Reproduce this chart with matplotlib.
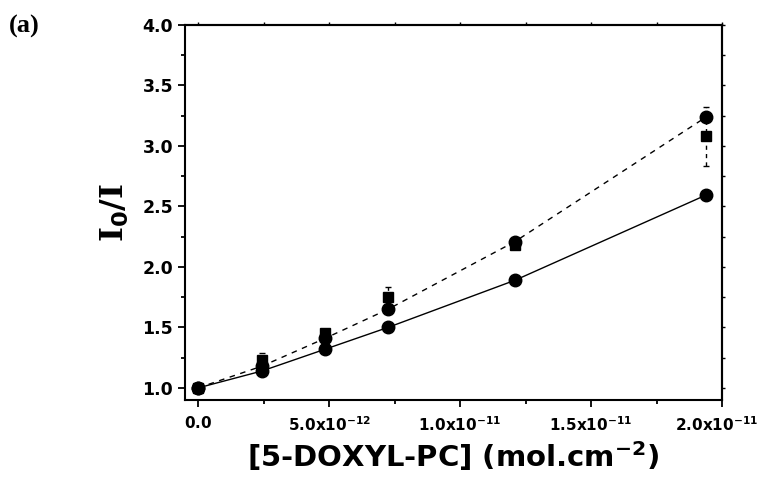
import matplotlib
matplotlib.use("Agg")
import matplotlib.pyplot as plt
import matplotlib.transforms as mtransforms
from matplotlib.ticker import FixedLocator, MultipleLocator, FuncFormatter

# quencher surface concentration (mol cm^-2)
conc = [0.0, 2.44e-12, 4.85e-12, 7.25e-12, 12.1e-12, 19.4e-12]

# I0/I for the three data sets
lower_circles = [1.0, 1.14, 1.32, 1.50, 1.89, 2.595]
upper_circles = [1.0, 1.18, 1.41, 1.65, 2.21, 3.24]
squares = [1.0, 1.23, 1.45, 1.75, 2.18, 3.08]
squares_err = [0.01, 0.06, 0.02, 0.08, 0.03, 0.245]

x_ticks = [0.0, 5e-12, 1.0e-11, 1.5e-11, 2.0e-11]
y_ticks = [1.0, 1.5, 2.0, 2.5, 3.0, 3.5, 4.0]


def sci_label(value, pos):
    if abs(value) < 1e-20:
        return r"$\mathbf{0.0}$"
    exp = int(f"{value:e}".split("e")[1])
    mant = value / 10 ** exp
    return r"$\mathbf{%.1fx10^{%d}}$" % (mant, exp)


fig = plt.figure(figsize=(7.65, 4.79), dpi=100)
ax = fig.add_axes([0.2418, 0.1649, 0.702, 0.783])

ax.plot(conc, lower_circles, color="black", lw=1.0, marker="o", ms=9, zorder=3)
ax.plot(conc, upper_circles, color="black", lw=1.0, ls=(0, (4, 4)), marker="o", ms=9, zorder=3)
ax.errorbar(conc, squares, yerr=squares_err, fmt="s", color="black", ms=7.5,
            ecolor="black", elinewidth=1.0, capsize=2, capthick=1.0, zorder=2)
for line in ax.containers[-1].lines[2]:
    line.set_linestyle((0, (3, 3)))

ax.set_xlim(-5e-13, 2.0e-11)
ax.set_ylim(0.9, 4.0)

ax.xaxis.set_major_locator(FixedLocator(x_ticks))
ax.xaxis.set_minor_locator(MultipleLocator(2.5e-12))
ax.yaxis.set_major_locator(FixedLocator(y_ticks))
ax.yaxis.set_minor_locator(MultipleLocator(0.25))
ax.xaxis.set_major_formatter(FuncFormatter(sci_label))
ax.yaxis.set_major_formatter(FuncFormatter(lambda v, p: f"{v:.1f}"))

for spine in ax.spines.values():
    spine.set_linewidth(1.5)

ax.tick_params(which="major", direction="out", length=5, width=1.3, labelsize=12.5)
ax.tick_params(which="minor", direction="out", length=3, width=1.3)
ax.tick_params(axis="x", pad=6, labelsize=11)
for lbl in ax.get_yticklabels():
    lbl.set_fontweight("bold")

# nudge the right-most x label so it stays inside the canvas
fig.canvas.draw()
shift = mtransforms.ScaledTranslation(-5 / 100, 0, fig.dpi_scale_trans)
for tick in ax.xaxis.get_major_ticks():
    if abs(tick.get_loc() - x_ticks[-1]) < 1e-14:
        tick.label1.set_transform(tick.label1.get_transform() + shift)

# small mirror ticks on the top and right frame
top = ax.secondary_xaxis("top")
top.xaxis.set_major_locator(FixedLocator(x_ticks))
top.xaxis.set_minor_locator(MultipleLocator(2.5e-12))
top.tick_params(which="both", direction="out", length=2, width=1.0, labeltop=False)
top.spines["top"].set_linewidth(1.5)
right = ax.secondary_yaxis("right")
right.yaxis.set_major_locator(FixedLocator(y_ticks))
right.yaxis.set_minor_locator(MultipleLocator(0.25))
right.tick_params(which="both", direction="out", length=2, width=1.0, labelright=False)
right.spines["right"].set_linewidth(1.5)

ax.set_xlabel(r"[5-DOXYL-PC] (mol.cm$^{\mathbf{-2}}$)", fontsize=21, fontweight="bold", labelpad=4)
ax.set_ylabel(r"I$_{\mathbf{0}}$/I", fontsize=23, fontweight="bold", family="DejaVu Serif", labelpad=8)

fig.text(0.012, 0.945, "(a)", fontsize=19, fontweight="bold", family="Liberation Serif", va="center")

fig.savefig("out.png", dpi=100)
